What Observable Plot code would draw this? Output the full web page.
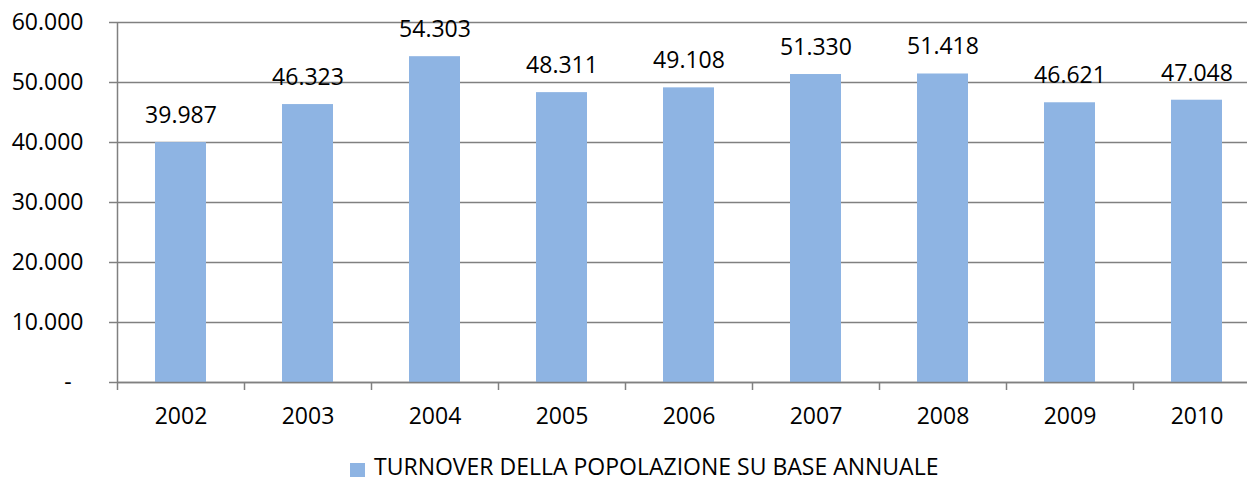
<!DOCTYPE html>
<html>
<head>
<meta charset="utf-8">
<script src="https://cdn.jsdelivr.net/npm/d3@7"></script>
<script src="https://cdn.jsdelivr.net/npm/@observablehq/plot@0.6"></script>
<style>
  html, body { margin: 0; padding: 0; background: #fff; }
  #wrap { width: 1247px; height: 482px; position: relative; overflow: hidden; font-family: 'Open Sans', sans-serif; }
  #legend { position: absolute; left: 0; top: 440px; width: 1247px; height: 42px; }
  #legend .sw { position: absolute; left: 350px; top: 23px; width: 15px; height: 14px; }
  #legend .lb { position: absolute; left: 374px; top: 15px; font-size: 23px; line-height: 23px; color: #000; white-space: nowrap; }
</style>
</head>
<body>
<div id="wrap"><div id="chart"></div><div id="legend"><span class="sw"></span><span class="lb"></span></div></div>
<script>
const years = ["2002", "2003", "2004", "2005", "2006", "2007", "2008", "2009", "2010"];
const values = [39987, 46323, 54303, 48311, 49108, 51330, 51418, 46621, 47048];
const yTicks = [0, 10000, 20000, 30000, 40000, 50000, 60000];
const seriesName = "TURNOVER DELLA POPOLAZIONE SU BASE ANNUALE";
const barColor = "#8eb4e3";
const axisColor = "#808080";

const data = years.map((year, i) => ({year, value: values[i]}));
const fmt = v => v === 0 ? "-\u00a0\u00a0" : d3.format(",")(v).replace(/,/g, ".");

const plotLeft = 117, plotRight = 1260;
const bw = (plotRight - plotLeft) / years.length;

const chart = Plot.plot({
  width: 1247,
  height: 440,
  marginLeft: plotLeft,
  marginTop: 22,
  marginBottom: 58,
  marginRight: 0,
  style: {fontFamily: "'Open Sans', sans-serif", fontSize: "23px", color: "#000", background: "#fff"},
  x: {domain: years, range: [plotLeft, plotRight], paddingInner: 0.6, paddingOuter: 0.3, align: 0.5},
  y: {domain: [0, 60000]},
  marks: [
    Plot.gridY(yTicks, {stroke: axisColor, strokeOpacity: 1, strokeWidth: 1.5}),
    Plot.axisY(yTicks, {tickSize: 8, tickPadding: 26, tickFormat: fmt, stroke: axisColor, strokeWidth: 1.5, fontSize: 23, label: null}),
    Plot.axisX({tickSize: 0, tickPadding: 25, label: null, fontSize: 23}),
    Plot.barY(data, {x: "year", y: "value", fill: barColor}),
    Plot.ruleX(years, {x: d => d, y1: 0, y2: -1333, dx: -bw / 2, stroke: axisColor, strokeWidth: 1.5}),
    Plot.ruleX([years[0]], {x: d => d, y1: 0, y2: 60000, dx: -bw / 2, stroke: axisColor, strokeWidth: 1.5}),
    Plot.ruleY([0], {stroke: axisColor, strokeWidth: 1.5}),
    Plot.text(data, {x: "year", y: "value", text: d => fmt(d.value), dy: -27, fontSize: 23, fill: "#000"})
  ]
});
document.getElementById("chart").appendChild(chart);
document.querySelector("#legend .sw").style.background = barColor;
document.querySelector("#legend .lb").textContent = seriesName;
</script>
</body>
</html>
